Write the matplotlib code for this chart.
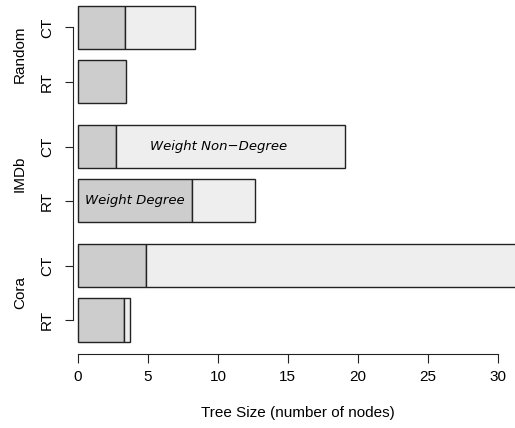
import matplotlib.pyplot as plt
import matplotlib.transforms as mtransforms

plt.rcParams["font.family"] = ["Liberation Sans", "DejaVu Sans"]
plt.rcParams["font.size"] = 11
plt.rcParams["figure.dpi"] = 100

# Data (bottom group first, RT below CT inside each group)
datasets = ["Cora", "IMDb", "Random"]
tree_types = ["RT", "CT"]
# degree-weighted part and total size, per dataset / tree type
degree_part = [[3.27, 4.86], [8.15, 2.69], [3.40, 3.38]]
total_size = [[3.72, 33.0], [12.63, 19.1], [3.40, 8.36]]
x_ticks = [0, 5, 10, 15, 20, 25, 30]

dark = "#cdcdcd"
light = "#eeeeee"
edge = "#222222"

fig = plt.figure(figsize=(5.15, 4.28))
ax = fig.add_axes([73 / 515, 1 - 345 / 428, 1 - 73 / 515, 345 / 428])

ypos, ylabels = [], []
for g, name in enumerate(datasets):
    for k, t in enumerate(tree_types):
        y = g * 2.75 + k * 1.25
        d = degree_part[g][k]
        tot = total_size[g][k]
        ax.barh(y, d, height=1, color=dark, edgecolor=edge, linewidth=1.0)
        if tot > d:
            ax.barh(y, tot - d, left=d, height=1, color=light,
                    edgecolor=edge, linewidth=1.0)
        ypos.append(y)
        ylabels.append(t)

# segment labels on the IMDb bars
ax.text(degree_part[1][0] / 2, ypos[2], "Weight Degree", ha="center",
        va="center", style="italic", family="DejaVu Sans", fontsize=9.5)
ax.text(10.05, ypos[3], "Weight Non\u2212Degree", ha="center",
        va="center", style="italic", family="DejaVu Sans", fontsize=9.5)

ax.set_xlim(-5 / 13.99, -5 / 13.99 + 442 / 13.99)
ax.set_ylim(-25 / 43.35, 320 / 43.35)

for s in ["top", "right"]:
    ax.spines[s].set_visible(False)
ax.spines["left"].set_bounds(ypos[0], ypos[-1])
ax.spines["bottom"].set_position(("outward", 6.5))
ax.spines["bottom"].set_bounds(0, 30)
for s in ["left", "bottom"]:
    ax.spines[s].set_linewidth(0.8)
    ax.spines[s].set_color("#222222")

ax.set_yticks(ypos, ylabels, rotation=90, va="center")
ax.set_xticks(x_ticks, [str(v) for v in x_ticks])
ax.tick_params(axis="y", length=5.8, width=0.8, pad=8, color="#222222")
ax.tick_params(axis="x", length=6.5, width=0.8, pad=5, color="#222222")

# dataset names beside the tick labels
tr = mtransforms.blended_transform_factory(fig.transFigure, ax.transData)
for g, name in enumerate(datasets):
    yc = g * 2.75 + 0.625
    fig.text(20 / 515, yc, name, rotation=90, ha="center", va="center",
             transform=tr)

fig.text(298 / 515, 1 - 413 / 428, "Tree Size (number of nodes)",
         ha="center", va="center")

fig.savefig("out.png", dpi=100)
